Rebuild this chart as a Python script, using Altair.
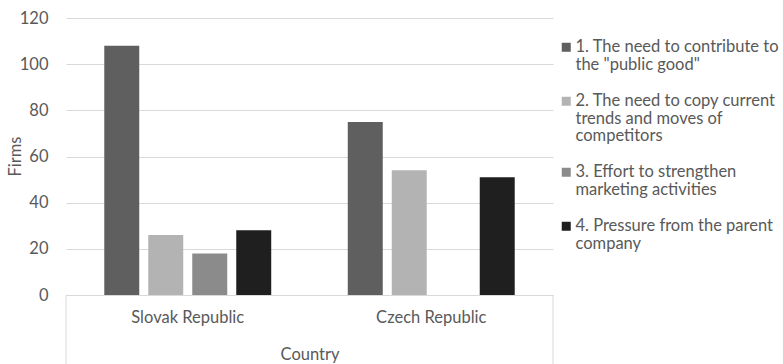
import json
import altair as alt
import pandas as pd

countries = ["Slovak Republic", "Czech Republic"]
series = [
    '1. The need to contribute to the "public good"',
    "2. The need to copy current trends and moves of competitors",
    "3. Effort to strengthen marketing activities",
    "4. Pressure from the parent company",
]
legend_lines = [
    ["1. The need to contribute to", 'the "public good"'],
    ["2. The need to copy current", "trends and moves of", "competitors"],
    ["3. Effort to strengthen", "marketing activities"],
    ["4. Pressure from the parent", "company"],
]
slovak = [108, 26, 18, 28]
czech = [75, 54, 0, 51]
colors = ["#5f5f5f", "#b3b3b3", "#8b8b8b", "#1f1f1f"]
y_ticks = [0, 20, 40, 60, 80, 100, 120]

rows = []
for c, vals in zip(countries, [slovak, czech]):
    for s, v in zip(series, vals):
        rows.append({"Country": c, "Series": s, "Firms": v})
df = pd.DataFrame(rows)

expr = "''"
for s, lines in reversed(list(zip(series, legend_lines))):
    expr = f"datum.label == {json.dumps(s)} ? {json.dumps(lines)} : ({expr})"

FONT = "Lato"
FS = 16.5
TXT = "#595959"
W, H = 487, 277

# square symbol shifted down so it sits beside the first label line
shifted_square = "M-1,0.78L1,0.78L1,2.78L-1,2.78Z"

bars = alt.Chart(df).mark_bar().encode(
    x=alt.X("Country:N", sort=countries,
            scale=alt.Scale(paddingInner=0, paddingOuter=0),
            axis=alt.Axis(title="Country", labelAngle=0, ticks=False, tickSize=0,
                          labelPadding=14, labelBaseline="top",
                          domain=True, domainColor="#d9d9d9", domainWidth=1,
                          titleY=59, titleBaseline="middle")),
    xOffset=alt.XOffset("Series:N", sort=series,
                        scale=alt.Scale(paddingInner=0.205, paddingOuter=0.87)),
    y=alt.Y("Firms:Q", scale=alt.Scale(domain=[0, 120], nice=False),
            axis=alt.Axis(title="Firms", values=y_ticks, ticks=False, tickSize=0,
                          domain=False, labelPadding=18, gridColor="#d9d9d9",
                          titleX=-51, titleY=138, titleBaseline="middle",
                          titleAlign="center", titleAngle=-90)),
    color=alt.Color("Series:N", sort=series,
                    scale=alt.Scale(domain=series, range=colors),
                    legend=alt.Legend(title=None, orient="none", legendX=492, legendY=13,
                                      padding=0, symbolType=shifted_square, symbolSize=81,
                                      symbolStrokeWidth=0, labelOffset=1,
                                      labelBaseline="top", rowPadding=11,
                                      labelLimit=300, labelExpr=expr)),
)

edge = alt.Data(values=[{}])
left_rule = alt.Chart(edge).mark_rule(color="#d9d9d9", strokeWidth=1).encode(
    x=alt.value(0), y=alt.value(H), y2=alt.value(H + 69))
right_rule = alt.Chart(edge).mark_rule(color="#d9d9d9", strokeWidth=1).encode(
    x=alt.value(W), y=alt.value(H), y2=alt.value(H + 69))

chart = alt.layer(bars, left_rule, right_rule).properties(
    width=W, height=H,
    autosize=alt.AutoSizeParams(type="none"),
    padding={"left": 66, "top": 18, "right": 783 - 66 - W, "bottom": 364 - 18 - H},
).configure(
    style={"guide-label": {"lineHeight": 17.5}},
).configure_view(stroke=None).configure_axis(
    labelFont=FONT, titleFont=FONT, labelFontSize=FS, titleFontSize=FS,
    labelColor=TXT, titleColor=TXT, titleFontWeight="normal",
).configure_legend(
    labelFont=FONT, labelFontSize=FS, labelColor=TXT,
)

chart.save("out.html", embed_options={"renderer": "svg", "actions": False})
